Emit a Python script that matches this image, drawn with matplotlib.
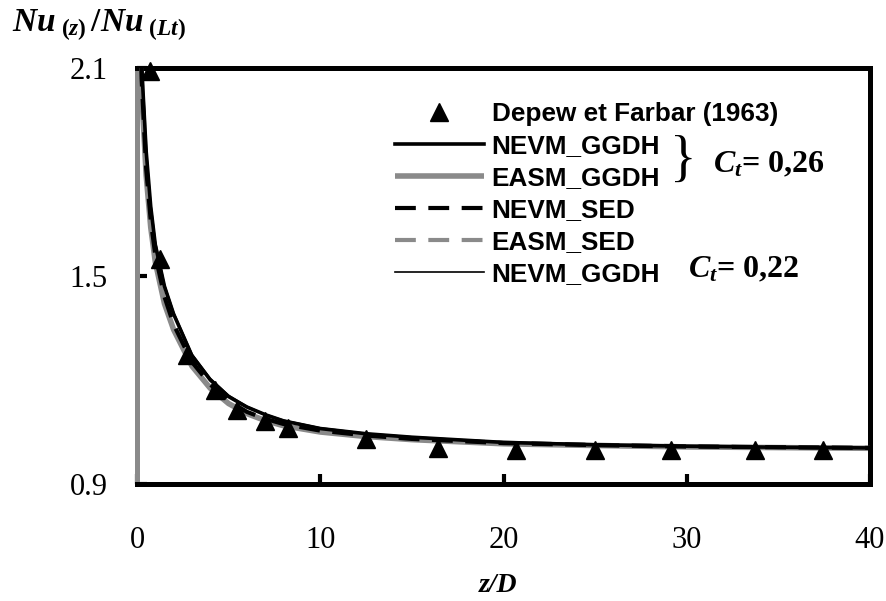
import matplotlib
matplotlib.use('Agg')
import matplotlib.pyplot as plt
from matplotlib.lines import Line2D

plt.rcParams['mathtext.fontset'] = 'custom'
plt.rcParams['mathtext.it'] = 'Liberation Serif:italic:bold'
plt.rcParams['mathtext.rm'] = 'Liberation Serif:bold'
plt.rcParams['mathtext.bf'] = 'Liberation Serif:bold'

# ---- data ----
z_exp = [0.7, 1.28, 2.75, 4.26, 5.48, 6.98, 8.24, 12.49, 16.45, 20.7, 24.99, 29.16, 33.7, 37.45]
nu_exp = [2.09, 1.549, 1.272, 1.171, 1.114, 1.082, 1.062, 1.030, 1.005, 0.998, 0.998, 0.998, 0.998, 0.998]

z_sim = [0.0, 0.25, 0.5, 0.75, 1.0, 1.5, 2, 3, 4, 5, 6, 7, 8, 10, 12.5, 15, 20, 25, 30, 35, 40]
nevm_ggdh_026 = [2.60, 2.11, 1.86, 1.70, 1.59, 1.47, 1.39, 1.27, 1.20, 1.152, 1.122, 1.10, 1.082, 1.06, 1.045,
                 1.035, 1.02, 1.013, 1.009, 1.006, 1.004]
easm_ggdh_026 = [2.55, 2.04, 1.79, 1.64, 1.54, 1.42, 1.345, 1.24, 1.176, 1.132, 1.103, 1.083, 1.068, 1.05,
                 1.037, 1.028, 1.016, 1.011, 1.007, 1.005, 1.003]
nevm_sed = [2.58, 2.07, 1.81, 1.66, 1.56, 1.44, 1.36, 1.252, 1.187, 1.14, 1.108, 1.088, 1.073, 1.054,
            1.04, 1.03, 1.018, 1.012, 1.008, 1.006, 1.004]
easm_sed = [2.56, 2.06, 1.80, 1.65, 1.55, 1.43, 1.352, 1.246, 1.182, 1.137, 1.106, 1.086, 1.071, 1.053,
            1.04, 1.031, 1.019, 1.013, 1.009, 1.006, 1.004]
nevm_ggdh_022 = [2.62, 2.12, 1.87, 1.71, 1.60, 1.475, 1.395, 1.275, 1.205, 1.156, 1.124, 1.101, 1.084, 1.062,
                 1.046, 1.036, 1.021, 1.014, 1.009, 1.006, 1.004]

x_ticks = [0, 10, 20, 30, 40]
y_ticks = [0.9, 1.5, 2.1]
y_tick_labels = ['0.9', '1.5', '2.1']

W, H = 887, 601
fig = plt.figure(figsize=(W / 100, H / 100), dpi=100)
L, R, T, B = 137, 870, 68, 484
ax = fig.add_axes([L / W, 1 - B / H, (R - L) / W, (B - T) / H])

grey = '#8a8a8a'
h_easm, = ax.plot(z_sim, easm_ggdh_026, color=grey, lw=4.0, solid_capstyle='butt', zorder=2)
h_easm_sed, = ax.plot(z_sim, easm_sed, color=grey, lw=3.0, dashes=(5, 3), zorder=3)
h_nevm_sed, = ax.plot(z_sim, nevm_sed, color='black', lw=3.0, dashes=(5, 3), zorder=4)
h_nevm, = ax.plot(z_sim, nevm_ggdh_026, color='black', lw=2.6, zorder=5)
h_nevm22, = ax.plot(z_sim, nevm_ggdh_022, color='black', lw=1.2, zorder=6)
h_exp, = ax.plot(z_exp, nu_exp, linestyle='none', marker='^', ms=12.5, color='black', zorder=10, clip_on=False)

ax.set_xlim(0, 40)
ax.set_ylim(0.9, 2.1)
ax.set_xticks(x_ticks)
ax.set_yticks(y_ticks)
ax.set_yticklabels(y_tick_labels)

for s in ['top', 'right', 'bottom']:
    ax.spines[s].set_linewidth(3.6)
    ax.spines[s].set_color('black')
ax.spines['left'].set_linewidth(3.6)
ax.spines['left'].set_color(grey)

ax.tick_params(axis='both', direction='in', length=7, width=3, color='black', labelsize=22)
ax.tick_params(axis='y', pad=21)
ax.tick_params(axis='x', pad=30)
for lab in ax.get_xticklabels() + ax.get_yticklabels():
    lab.set_fontfamily('Liberation Serif')

handles = [h_exp, h_nevm, h_easm, h_nevm_sed, h_easm_sed, h_nevm22]
labels = ['Depew et Farbar (1963)', 'NEVM_GGDH', 'EASM_GGDH', 'NEVM_SED', 'EASM_SED', 'NEVM_GGDH']
leg = ax.legend(handles, labels, loc='upper left', bbox_to_anchor=(395 / W, 1 - 102 / H),
                bbox_transform=fig.transFigure, frameon=False, borderpad=0, borderaxespad=0,
                handlelength=3.4, handletextpad=0.3, labelspacing=0.31, numpoints=1,
                prop={'family': 'Liberation Sans', 'weight': 'bold', 'size': 18.8})

# Ct annotations
fig.text(683 / W, 1 - 162 / H, '}', fontsize=40, family='Liberation Serif', ha='center', va='center')
fig.text(713 / W, 1 - 165 / H, r'$C_t$= 0,26', fontsize=23, family='Liberation Serif', weight='bold',
         ha='left', va='center')
fig.text(688 / W, 1 - 270 / H, r'$C_t$= 0,22', fontsize=23, family='Liberation Serif', weight='bold',
         ha='left', va='center')

# axis labels
fig.text(12 / W, 1 - 31 / H, r'$\mathit{Nu_{\ (z)}\,/Nu_{\ (Lt)}}$', fontsize=24, ha='left', va='baseline')
fig.text(498 / W, 1 - 586 / H, 'z/D', fontsize=20, family='Liberation Serif', weight='bold',
         style='italic', ha='center', va='center')

fig.savefig('out.png', dpi=100)
